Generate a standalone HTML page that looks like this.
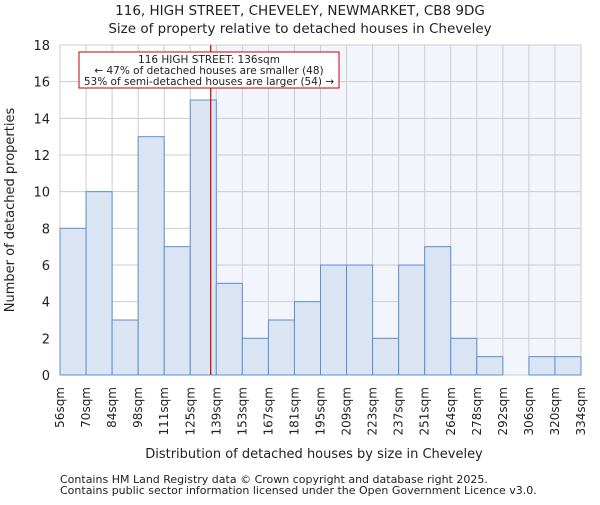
<!DOCTYPE html>
<html><head><meta charset="utf-8"><style>
body{margin:0;background:#fff;}
svg text{font-family:"DejaVu Sans","Liberation Sans",sans-serif;fill:#222;}
</style></head><body>
<svg width="600" height="500" xmlns="http://www.w3.org/2000/svg">
<g id="g"></g>
</svg>
<script>
const binLabels=["56sqm","70sqm","84sqm","98sqm","111sqm","125sqm","139sqm","153sqm","167sqm","181sqm","195sqm","209sqm","223sqm","237sqm","251sqm","264sqm","278sqm","292sqm","306sqm","320sqm","334sqm"];
const counts=[8,10,3,13,7,15,5,2,3,4,6,6,2,6,7,2,1,0,1,1];
const yTicks=[0,2,4,6,8,10,12,14,16,18];
const markerFrac=5+11/14; // 136sqm position in bin units
const X0=60,X1=581,Y0=375,Y1=45,YMAX=18;
const bw=(X1-X0)/counts.length;
const xs=i=>X0+i*bw;
const ys=v=>Y0-(Y0-Y1)*v/YMAX;
const NS="http://www.w3.org/2000/svg";
const g=document.getElementById('g');
function mk(t,a,txt){const e=document.createElementNS(NS,t);for(const k in a)e.setAttribute(k,a[k]);if(txt!==undefined)e.textContent=txt;g.appendChild(e);return e;}
const mx=xs(markerFrac);
let e;
e=mk('rect',{x:mx,y:Y1,width:X1-mx,height:Y0-Y1,fill:'#f2f5fc'});


yTicks.forEach(t=>{
 e=mk('line',{x1:X0,x2:X1,y1:ys(t),y2:ys(t),stroke:'#cccccc'});
 
 
 e=mk('text',{x:X0-10,y:ys(t)+5,'text-anchor':'end','font-size':13},t);
 
 
});
binLabels.forEach((l,i)=>{
 e=mk('line',{x1:xs(i),x2:xs(i),y1:Y1,y2:Y0,stroke:'#cccccc'});
 
 
 const x=xs(i);
 e=mk('text',{x:x+4,y:Y0+12,'text-anchor':'end','font-size':12,transform:`rotate(-90 ${x+4} ${Y0+12})`},l);
 
 
});
counts.forEach((c,i)=>{
 if(c<=0)return;
 e=mk('rect',{x:xs(i),y:ys(c),width:bw,height:Y0-ys(c),fill:'#dae4f3',stroke:'#5b8fd4','stroke-width':1});
 
 
});
e=mk('line',{x1:mx,x2:mx,y1:Y1,y2:Y0,stroke:'#cc0000','stroke-width':1.2});


e=mk('rect',{x:79,y:52,width:260,height:36,fill:'#fff',stroke:'#cc0000','stroke-width':1});


[["116 HIGH STREET: 136sqm",63],["← 47% of detached houses are smaller (48)",74],["53% of semi-detached houses are larger (54) →",85]].forEach(a=>{
 e=mk('text',{x:209,y:a[1],'text-anchor':'middle','font-size':10.5},a[0]);
 
 
});
e=mk('text',{x:300,y:15,'text-anchor':'middle','font-size':13.5},"116, HIGH STREET, CHEVELEY, NEWMARKET, CB8 9DG");


e=mk('text',{x:300,y:33,'text-anchor':'middle','font-size':13.5},"Size of property relative to detached houses in Cheveley");


e=mk('text',{x:314,y:458,'text-anchor':'middle','font-size':13},"Distribution of detached houses by size in Cheveley");


e=mk('text',{x:14,y:210,'text-anchor':'middle','font-size':13,transform:'rotate(-90 14 210)'},"Number of detached properties");


e=mk('text',{x:60,y:483,'font-size':11,fill:'#444'},"Contains HM Land Registry data © Crown copyright and database right 2025.");


e=mk('text',{x:60,y:494,'font-size':11,fill:'#444'},"Contains public sector information licensed under the Open Government Licence v3.0.");


</script>
</body></html>
